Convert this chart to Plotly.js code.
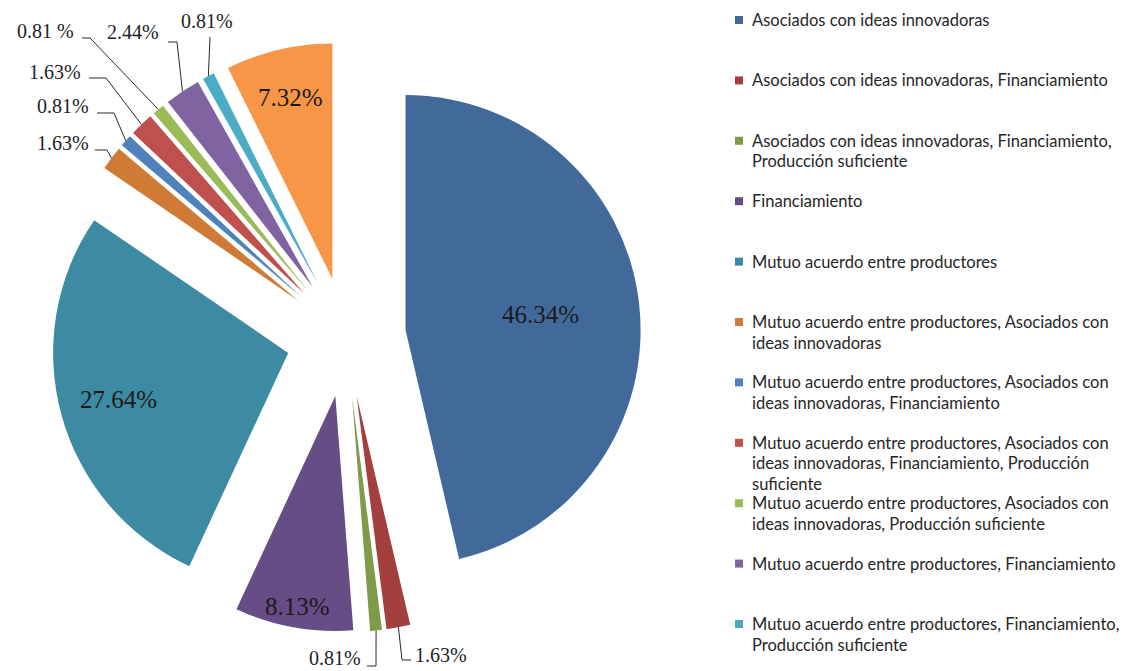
<!DOCTYPE html>
<html><head><meta charset="utf-8">
<script src="https://cdn.plot.ly/plotly-3.0.1.min.js"></script>
<style>html,body{margin:0;padding:0;background:#fff}#chart{width:1132px;height:671px}</style>
</head><body><div id="chart"></div>
<script>
// ---------- data ----------
const categories = [
  "Asociados con ideas innovadoras",
  "Asociados con ideas innovadoras, Financiamiento",
  "Asociados con ideas innovadoras, Financiamiento, Producción suficiente",
  "Financiamiento",
  "Mutuo acuerdo entre productores",
  "Mutuo acuerdo entre productores, Asociados con ideas innovadoras",
  "Mutuo acuerdo entre productores, Asociados con ideas innovadoras, Financiamiento",
  "Mutuo acuerdo entre productores, Asociados con ideas innovadoras, Financiamiento, Producción suficiente",
  "Mutuo acuerdo entre productores, Asociados con ideas innovadoras, Producción suficiente",
  "Mutuo acuerdo entre productores, Financiamiento",
  "Mutuo acuerdo entre productores, Financiamiento, Producción suficiente",
  "Producción suficiente"
];
const values = [46.34, 1.63, 0.81, 8.13, 27.64, 1.63, 0.81, 1.63, 0.81, 2.44, 0.81, 7.32];
const colors = ["#416A9B","#A3403D","#7F9B49","#674D86","#3D8BA3","#D07B35",
                "#4F81BD","#C0504D","#9BBB59","#8064A2","#4BACC6","#F79646"];
const legendShown = 11;   // the last entry is cut off in the original
const percentSep = ["","","","","","","",""," ","","",""]; // "0.81 %" has a space in the original

// ---------- layout parameters ----------
const W = 1132, H = 671;
const cx = 346, cy = 337, outerR = 295, pull = 0.255;
const r = outerR / (1 + pull);
const px = x => x / W, py = y => 1 - y / H;

// label placement (layout)
const inside = {0: 0.58, 3: 0.91, 4: 0.75, 11: 0.79};
const outside = {
  1:  {x: 413, y: 655, xa: 'left',   path: [[411,660],[402,660]]},
  2:  {x: 363, y: 658, xa: 'right',  path: [[367,666],[376,666]]},
  5:  {x: 91,  y: 143, xa: 'right',  path: [[95,150],[107,150]]},
  6:  {x: 91,  y: 106, xa: 'right',  path: [[97,113],[114,113]]},
  7:  {x: 83,  y: 72,  xa: 'right',  path: [[89,78],[106,78]]},
  8:  {x: 76,  y: 31,  xa: 'right',  path: [[82,38],[90,38]]},
  9:  {x: 133, y: 32,  xa: 'center', path: [[168,42],[177,42]]},
  10: {x: 207, y: 21,  xa: 'center', path: [[210,37]]}
};

// ---------- geometry from data ----------
const total = values.reduce((a,b)=>a+b,0);
let cum = 0;
const mids = values.map(v => { const m = (cum + v/2) / total * 2*Math.PI; cum += v; return m; });
const dir = a => [Math.sin(a), -Math.cos(a)];

const annotations = [], shapes = [];
values.forEach((v, i) => {
  const txt = v.toFixed(2) + percentSep[i] + '%';
  const d = dir(mids[i]);
  const ax = cx + pull*r*d[0], ay = cy + pull*r*d[1];
  if (inside[i] !== undefined) {
    const f = inside[i];
    annotations.push({xref:'paper', yref:'paper', x: px(ax + f*r*d[0]), y: py(ay + f*r*d[1]),
      text: txt, showarrow:false, xanchor:'center', yanchor:'middle',
      font:{family:'Liberation Serif, Times New Roman, serif', size:25, color:'#1a1a1a'}});
  } else if (outside[i]) {
    const o = outside[i];
    annotations.push({xref:'paper', yref:'paper', x: px(o.x), y: py(o.y), text: txt,
      showarrow:false, xanchor:o.xa, yanchor:'middle',
      font:{family:'Liberation Serif, Times New Roman, serif', size:20, color:'#1e1e28'}});
    const end = [cx + outerR*d[0], cy + outerR*d[1]];
    const pts = o.path.concat([end]);
    const p = pts.map((q,k) => (k ? 'L ' : 'M ') + px(q[0]).toFixed(5) + ' ' + py(q[1]).toFixed(5)).join(' ');
    shapes.push({type:'path', xref:'paper', yref:'paper', path: p, line:{color:'#2a2a2a', width:1}});
  }
});

// ---------- legend (drawn manually, as the original shows only 11 entries) ----------
function wrap(s, max) {
  const words = s.split(' '); const lines = []; let cur = '';
  words.forEach(w => { const t = cur ? cur + ' ' + w : w; if (t.length > max && cur) { lines.push(cur); cur = w; } else cur = t; });
  if (cur) lines.push(cur); return lines;
}
const legTop = 20, legStep = 60.4, legLine = 20.5, legBoxX = 735, legTextX = 750;
for (let i = 0; i < legendShown; i++) {
  const y0 = legTop + i*legStep;
  shapes.push({type:'rect', xref:'paper', yref:'paper', x0: px(legBoxX), x1: px(legBoxX+8),
    y0: py(y0-4), y1: py(y0+4), fillcolor: colors[i], line:{width:0}});
  wrap(categories[i], 48).forEach((ln, k) => {
    annotations.push({xref:'paper', yref:'paper', x: px(legTextX), y: py(y0 + k*legLine), text: ln,
      showarrow:false, xanchor:'left', yanchor:'middle',
      font:{family:'Lato, Carlito, Calibri, sans-serif', size:16.5, color:'#262626'}});
  });
}

const trace = {
  type:'pie', labels: categories, values: values, sort:false, direction:'clockwise', rotation:0,
  pull: values.map(()=>pull), marker:{colors: colors, line:{width:0}},
  textinfo:'none', hoverinfo:'none', showlegend:false,
  domain:{x:[px(cx-outerR), px(cx+outerR)], y:[py(cy+outerR), py(cy-outerR)]}
};
const layout = {width:W, height:H, margin:{l:0,r:0,t:0,b:0}, paper_bgcolor:'#fff',
  showlegend:false, annotations, shapes};
Plotly.newPlot('chart', [trace], layout, {displayModeBar:false, staticPlot:true});
</script></body></html>
